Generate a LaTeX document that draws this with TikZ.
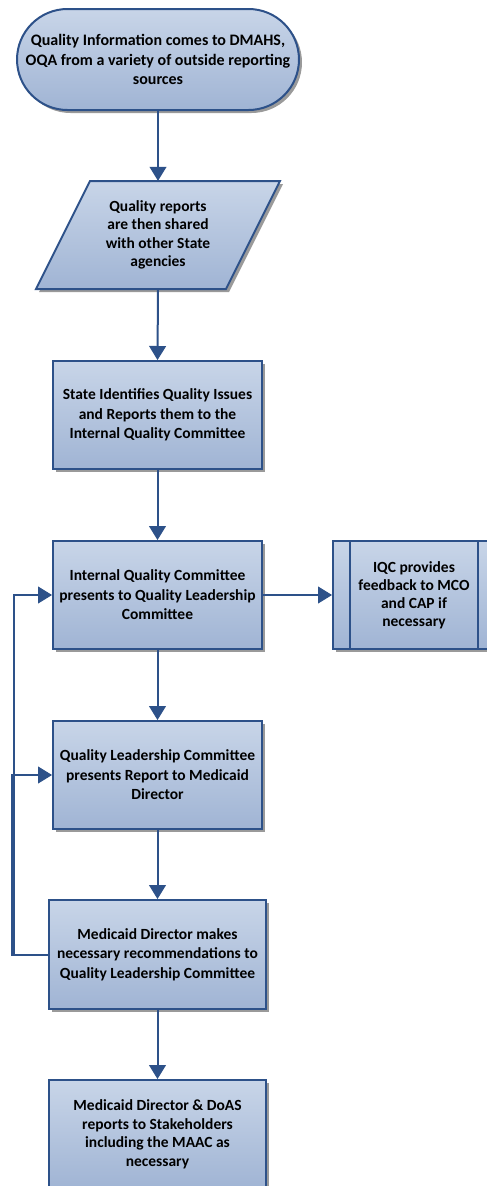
\documentclass[tikz,border=0pt]{standalone}
\usepackage{fontspec}
\setmainfont{Carlito}
\usetikzlibrary{arrows.meta,shapes.misc,shadows}
\definecolor{bord}{HTML}{2D5189}
\definecolor{ftop}{HTML}{C8D5E8}
\definecolor{fbot}{HTML}{A0B4D4}
\definecolor{shad}{HTML}{9A9A9A}
\tikzset{
  flowbox/.style={draw=bord, line width=2pt, top color=ftop, bottom color=fbot,
    drop shadow={shadow xshift=3pt, shadow yshift=-3pt, fill=shad, opacity=1},
    align=center, font=\bfseries\fontsize{15.5}{19.5}\selectfont, inner sep=2pt},
  plain/.style={align=center, font=\bfseries\fontsize{15.5}{18.5}\selectfont, inner sep=0pt},
  arr/.style={draw=bord, line width=2pt, -{Triangle[length=14pt, width=17pt, fill=bord, line width=1pt]}},
  ln/.style={draw=bord, line width=2pt}
}
\begin{document}
\begin{tikzpicture}[x=1pt,y=-1pt]
\useasboundingbox (0,0) rectangle (487,1186);
\clip (0,0) rectangle (487,1186);
% terminator
\node[flowbox, rounded rectangle, minimum width=270pt, minimum height=101pt,
  font=\bfseries\fontsize{16}{19.5}\selectfont] (t1) at (158,59.5)
  {Quality Information comes to DMAHS,\\OQA from a variety of outside reporting\\sources};
% parallelogram
\path[flowbox] (90,181) -- (280,181) -- (226,289) -- (36,289) -- cycle;
\node[plain, minimum width=150pt, minimum height=108pt] (p2) at (158,235)
  {Quality reports\\are then shared\\with other State\\agencies};
% boxes
\node[flowbox, minimum width=209pt, minimum height=108pt] (b3) at (157.5,415)
  {State Identifies Quality Issues\\and Reports them to the\\Internal Quality Committee};
\node[flowbox, minimum width=209pt, minimum height=108pt] (b4) at (157.5,595)
  {Internal Quality Committee\\presents to Quality Leadership\\Committee};
\node[flowbox, minimum width=162pt, minimum height=108pt, font=\bfseries\fontsize{15.5}{18}\selectfont] (iqc) at (414,595)
  {IQC provides\\feedback to MCO\\and CAP if\\necessary};
\draw[ln] ([xshift=18pt]iqc.north west) -- ([xshift=18pt]iqc.south west);
\draw[ln] ([xshift=-18pt]iqc.north east) -- ([xshift=-18pt]iqc.south east);
\node[flowbox, minimum width=209pt, minimum height=108pt] (b5) at (157.5,775)
  {Quality Leadership Committee\\presents Report to Medicaid\\Director};
\node[flowbox, minimum width=217pt, minimum height=109pt] (b6) at (157.5,954.5)
  {Medicaid Director makes\\necessary recommendations to\\Quality Leadership Committee};
\node[flowbox, minimum width=217pt, minimum height=109pt, font=\bfseries\fontsize{15.5}{18.5}\selectfont] (b7) at (157.5,1134.5)
  {Medicaid Director \& DoAS\\reports to Stakeholders\\including the MAAC as\\necessary};
% connectors
\draw[arr] (t1.south) -- (p2.north);
\draw[arr] (p2.south) -- (b3.north);
\draw[arr] (b3.south) -- (b4.north);
\draw[arr] (b4.east) -- (iqc.west);
\draw[arr] (b4.south) -- (b5.north);
\draw[arr] (b5.south) -- (b6.north);
\draw[arr] (b6.south) -- (b7.north);
\draw[arr] (b6.west) -- ++(-36pt,0) |- (b5.west);
\draw[arr] (b6.west) -- ++(-34pt,0) |- (b4.west);
\end{tikzpicture}
\end{document}
